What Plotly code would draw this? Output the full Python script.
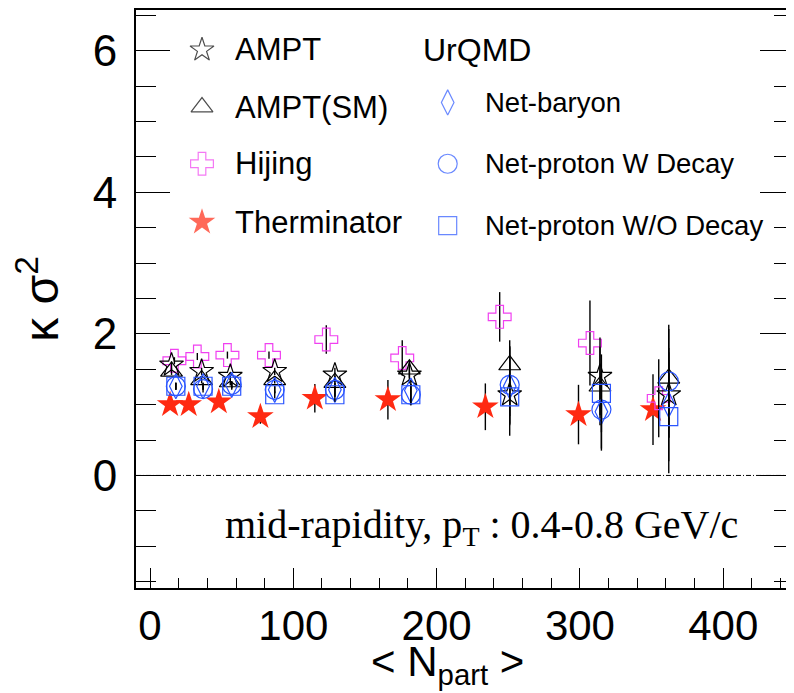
import plotly.graph_objects as go

# <Npart> positions (slightly shifted per model, as in the reference)
x_ampt = [15, 36, 56, 87, 129, 181, 251, 314, 362]
x_hijing = [17, 33, 54, 83, 123, 176, 244, 307, 355]
x_therm = [14, 27, 48, 77, 115, 166, 234, 299, 351]
x_urqmd = [18, 37, 57, 87, 129, 182, 251, 315, 362]

# kappa*sigma^2 values
ampt = [1.56, 1.47, 1.40, 1.47, 1.42, 1.42, 1.14, 1.40, 1.14]
ampt_err = [0.05, 0.05, 0.05, 0.05, 0.10, 0.12, 0.30, 0.55, 0.60]
ampt_sm = [1.47, 1.35, 1.32, 1.35, 1.31, 1.50, 1.56, 1.26, 1.37]
ampt_sm_err = [0.05, 0.05, 0.05, 0.05, 0.10, 0.12, 0.35, 0.55, 0.70]
hijing = [1.62, 1.68, 1.70, 1.70, 1.92, 1.66, 2.24, 1.87, 1.09]
hijing_err = [0.05, 0.05, 0.05, 0.05, 0.20, 0.25, 0.35, 0.60, 0.55]
therm = [1.00, 1.00, 1.04, 0.83, 1.09, 1.07, 0.97, 0.86, 0.93]
therm_err = [0.05, 0.05, 0.05, 0.10, 0.20, 0.28, 0.33, 0.42, 0.50]
net_baryon = [1.26, 1.26, 1.28, 1.21, 1.21, 1.20, 1.26, 0.90, 1.00]
net_p_decay = [1.26, 1.22, 1.28, 1.21, 1.21, 1.14, 1.28, 0.93, 1.33]
net_p_nodecay = [1.26, 1.26, 1.26, 1.14, 1.14, 1.14, 1.11, 1.16, 0.83]
urqmd_err = [0.05, 0.05, 0.05, 0.05, 0.10, 0.15, 0.55, 0.55, 0.80]

RED = "#ff2a12"
MAG = "#f040f0"
BLUE = "#2a55ff"

fig = go.Figure()


def add_series(x, y, err, symbol, color, size, filled=False):
    fig.add_trace(go.Scatter(
        x=x, y=y, mode="markers", showlegend=False,
        error_y=dict(type="data", array=err, color="black", thickness=1.4, width=0),
        marker=dict(symbol=symbol, size=size, color=color,
                    line=dict(color=color, width=0 if filled else 1.2)),
    ))


add_series(x_therm, therm, therm_err, "star", RED, 20, filled=True)
add_series(x_hijing, hijing, hijing_err, "cross-open", MAG, 19)
add_series(x_ampt, ampt, ampt_err, "star-open", "black", 18)
add_series(x_ampt, ampt_sm, ampt_sm_err, "triangle-up-open", "black", 19)
add_series(x_urqmd, net_baryon, urqmd_err, "diamond-tall-open", BLUE, 18)
add_series(x_urqmd, net_p_decay, urqmd_err, "circle-open", BLUE, 19)
add_series(x_urqmd, net_p_nodecay, urqmd_err, "square-open", BLUE, 18)

# legend drawn by hand (ROOT TLegend style) on a hidden 0-1 overlay axis
leg_left = ["AMPT", "AMPT(SM)", "Hijing", "Therminator"]
leg_left_sym = ["star-open", "triangle-up-open", "cross-open", "star"]
leg_left_col = ["black", "black", MAG, RED]
leg_left_y = [0.931, 0.832, 0.734, 0.633]
leg_right = ["Net-baryon", "Net-proton W Decay", "Net-proton W/O Decay"]
leg_right_sym = ["diamond-tall-open", "circle-open", "square-open"]
leg_right_y = [0.840, 0.734, 0.627]

fig.add_trace(go.Scatter(
    x=[0.1003] * 4, y=leg_left_y, mode="markers", showlegend=False,
    xaxis="x2", yaxis="y2", hoverinfo="skip",
    marker=dict(symbol=leg_left_sym, size=[18, 19, 19, 20], color=leg_left_col,
                line=dict(color=leg_left_col, width=[1.2, 1.2, 1.2, 0])),
))
fig.add_trace(go.Scatter(
    x=[0.4737] * 3, y=leg_right_y, mode="markers", showlegend=False,
    xaxis="x2", yaxis="y2", hoverinfo="skip",
    marker=dict(symbol=leg_right_sym, size=[18, 19, 18], color=BLUE,
                line=dict(color=BLUE, width=1.2)),
))

for label, yy in zip(leg_left, leg_left_y):
    fig.add_annotation(x=0.1474, y=yy, xref="paper", yref="paper", text=label,
                       showarrow=False, xanchor="left", yanchor="middle",
                       font=dict(family="Liberation Sans", size=31, color="black"))
for label, yy in zip(leg_right, leg_right_y):
    fig.add_annotation(x=0.5274, y=yy, xref="paper", yref="paper", text=label,
                       showarrow=False, xanchor="left", yanchor="middle",
                       font=dict(family="Liberation Sans", size=27.5, color="black"))
fig.add_annotation(x=0.433, y=0.931, xref="paper", yref="paper", text="UrQMD",
                   showarrow=False, xanchor="left", yanchor="middle",
                   font=dict(family="Liberation Sans", size=32, color="black"))

fig.add_annotation(x=0.525, y=0.106, xref="paper", yref="paper",
                   text="mid-rapidity, p<sub>T</sub> : 0.4-0.8 GeV/c",
                   showarrow=False, xanchor="center", yanchor="middle",
                   font=dict(family="Liberation Serif", size=40, color="black"))

# x-axis title (placed as annotation for exact position)
fig.add_annotation(x=0.473, y=-0.133, xref="paper", yref="paper",
                   text="< N<sub>part</sub> >",
                   showarrow=False, xanchor="center", yanchor="middle",
                   font=dict(family="Liberation Sans", size=42, color="black"))

# zero line
fig.add_shape(type="line", xref="paper", yref="y", x0=0, x1=1, y0=0, y1=0,
              line=dict(color="black", width=1, dash="5px,2px,1px,2px"))

# page body has an 8px margin, so the figure is offset by 8px
fig.update_layout(
    width=786, height=685,
    margin=dict(l=128, r=0, t=2, b=105),
    plot_bgcolor="white", paper_bgcolor="white",
    font=dict(family="Liberation Sans", color="black"),
    xaxis=dict(
        range=[-9.8, 449.4], showgrid=False, zeroline=False, automargin=False,
        showline=True, linecolor="black", linewidth=2, mirror=True,
        ticks="inside", ticklen=20, tickwidth=1.2, tickcolor="black",
        tick0=0, dtick=100, tickfont=dict(size=42),
        minor=dict(ticks="inside", ticklen=10, dtick=20, tickwidth=1.2, tickcolor="black"),
    ),
    yaxis=dict(
        range=[-1.59, 6.575], showgrid=False, zeroline=False, automargin=False,
        showline=True, linecolor="black", linewidth=2, mirror="allticks",
        ticks="inside", ticklen=34, tickwidth=1.2, tickcolor="black",
        tick0=0, dtick=2, tickfont=dict(size=44), ticklabelstandoff=8,
        minor=dict(ticks="inside", ticklen=20, dtick=0.5, tickwidth=1.2, tickcolor="black"),
        title=dict(text="κ σ<sup>2</sup>", font=dict(size=48), standoff=22),
    ),
    xaxis2=dict(range=[0, 1], overlaying="x", visible=False),
    yaxis2=dict(range=[0, 1], overlaying="y", visible=False),
)

fig.write_html("out.html")
